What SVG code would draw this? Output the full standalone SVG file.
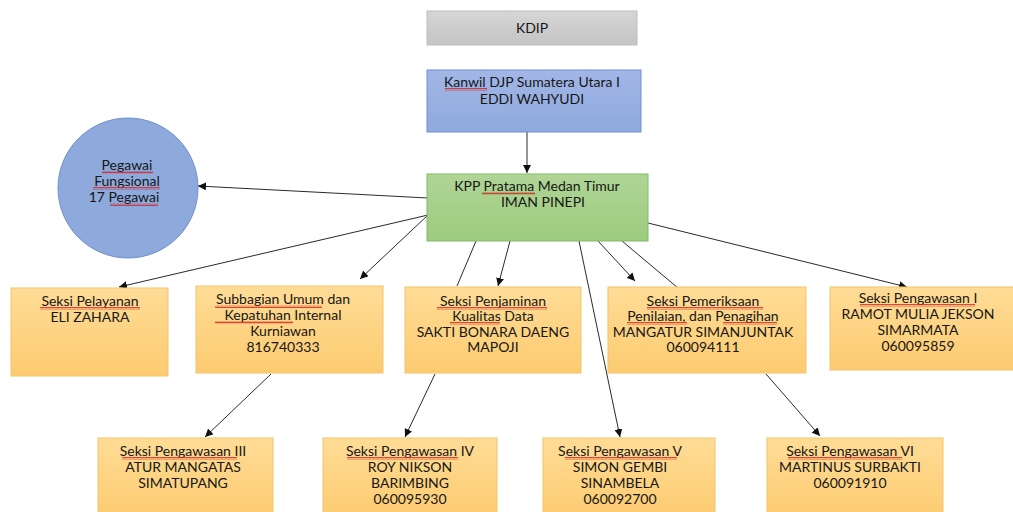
<svg xmlns="http://www.w3.org/2000/svg" width="1013" height="512" viewBox="0 0 1013 512">
<defs>
<linearGradient id="gOrange" x1="0" y1="0" x2="0" y2="1"><stop offset="0" stop-color="#ffdc96"/><stop offset="1" stop-color="#fccb70"/></linearGradient>
<linearGradient id="gGray" x1="0" y1="0" x2="0" y2="1"><stop offset="0" stop-color="#d6d6d6"/><stop offset="1" stop-color="#c4c4c4"/></linearGradient>
<linearGradient id="gBlue" x1="0" y1="0" x2="0" y2="1"><stop offset="0" stop-color="#a2b6e6"/><stop offset="1" stop-color="#8ea9dc"/></linearGradient>
<linearGradient id="gGreen" x1="0" y1="0" x2="0" y2="1"><stop offset="0" stop-color="#b0d596"/><stop offset="1" stop-color="#9ccb7e"/></linearGradient>
<pattern id="sq" patternUnits="userSpaceOnUse" width="4" height="3"><path d="M0 2.4 L1 0.6 L2 2.4 L3 0.6 L4 2.4" fill="none" stroke="#d42020" stroke-width="0.8"/></pattern>
<marker id="ah" viewBox="0 0 10 10" refX="10" refY="5" markerWidth="8" markerHeight="8" markerUnits="userSpaceOnUse" orient="auto"><path d="M0 0 L10 5 L0 10 z" fill="#111"/></marker>
</defs>
<style>
text{font-family:Lato,"Liberation Sans",sans-serif;font-size:14px;fill:#161616;text-anchor:middle}
.ob{fill:url(#gOrange);stroke:#f2c46e;stroke-width:1}
.ln{stroke:#2a2a2a;stroke-width:1;fill:none}
.ar{stroke:#2a2a2a;stroke-width:1;fill:none;marker-end:url(#ah)}
.sq{fill:url(#sq)}
</style>
<rect width="1013" height="512" fill="#ffffff"/>

<g id="connectors">
<line class="ar" x1="527" y1="132" x2="527" y2="173"/>
<line class="ar" x1="428" y1="198" x2="198" y2="186"/>
<line class="ar" x1="428" y1="215" x2="119" y2="287"/>
<line class="ar" x1="428" y1="215" x2="360" y2="279"/>
<line class="ln" x1="476" y1="241" x2="457" y2="286"/>
<line class="ar" x1="510" y1="241" x2="498" y2="286"/>
<line class="ar" x1="579" y1="241" x2="620" y2="437"/>
<line class="ar" x1="598" y1="241" x2="635" y2="281"/>
<line class="ln" x1="622" y1="241" x2="678" y2="288"/>
<line class="ar" x1="648" y1="223" x2="907" y2="287"/>
<line class="ar" x1="271" y1="374" x2="205" y2="437"/>
<line class="ar" x1="435" y1="374" x2="405" y2="437"/>
<line class="ar" x1="766" y1="374" x2="820" y2="436"/>
</g>

<g id="kdip">
<rect x="427" y="11" width="210" height="34" fill="url(#gGray)" stroke="#bdbdbd"/>
<text x="532" y="33">KDIP</text>
</g>

<g id="kanwil">
<rect x="427" y="70" width="214" height="62" fill="url(#gBlue)" stroke="#6f8fcf"/>
<text x="532" y="87">Kanwil DJP Sumatera Utara I</text>
<text x="532" y="104">EDDI WAHYUDI</text>
<rect class="sq" x="445" y="88" width="42" height="3"/>
</g>

<g id="kpp">
<rect x="427" y="174" width="221" height="67" fill="url(#gGreen)" stroke="#86b86a"/>
<text x="537" y="191">KPP Pratama Medan Timur</text>
<text x="543" y="207">IMAN PINEPI</text>
<rect class="sq" x="482" y="192" width="53" height="3"/>
</g>

<g id="fungsional">
<circle cx="128" cy="188" r="70" fill="#8eaadc" stroke="#6f8fcf"/>
<text x="127" y="170">Pegawai</text>
<text x="127" y="186">Fungsional</text>
<text x="124" y="202">17 Pegawai</text>
<rect class="sq" x="102" y="171" width="51" height="3"/>
<rect class="sq" x="93" y="187" width="67" height="3"/>
<rect class="sq" x="110" y="203" width="48" height="3"/>
</g>

<g id="pelayanan">
<rect class="ob" x="11" y="288" width="157" height="88"/>
<text x="90" y="306">Seksi Pelayanan</text>
<text x="90" y="322">ELI ZAHARA</text>
<rect class="sq" x="40" y="307" width="100" height="3"/>
</g>

<g id="subbagian">
<rect class="ob" x="196" y="286" width="187" height="87"/>
<text x="283" y="304">Subbagian Umum dan</text>
<text x="283" y="320">Kepatuhan Internal</text>
<text x="283" y="336">Kurniawan</text>
<text x="283" y="352">816740333</text>
<rect class="sq" x="215" y="305" width="107" height="3"/>
<rect class="sq" x="215" y="321" width="78" height="3"/>
</g>

<g id="penjaminan">
<rect class="ob" x="405" y="287" width="176" height="86"/>
<text x="493" y="306">Seksi Penjaminan</text>
<text x="493" y="321">Kualitas Data</text>
<text x="493" y="337">SAKTI BONARA DAENG</text>
<text x="493" y="352">MAPOJI</text>
<rect class="sq" x="437" y="307" width="110" height="3"/>
<rect class="sq" x="450" y="322" width="50" height="3"/>
</g>

<g id="pemeriksaan">
<rect class="ob" x="608" y="287" width="198" height="86"/>
<text x="703" y="306">Seksi Pemeriksaan</text>
<text x="703" y="321">Penilaian, dan Penagihan</text>
<text x="703" y="337">MANGATUR SIMANJUNTAK</text>
<text x="703" y="352">060094111</text>
<rect class="sq" x="647" y="307" width="116" height="3"/>
<rect class="sq" x="627" y="322" width="60" height="3"/>
<rect class="sq" x="723" y="322" width="54" height="3"/>
</g>

<g id="pengawasan1">
<rect class="ob" x="830" y="287" width="185" height="83"/>
<text x="918" y="303">Seksi Pengawasan I</text>
<text x="918" y="319">RAMOT MULIA JEKSON</text>
<text x="918" y="335">SIMARMATA</text>
<text x="918" y="351">060095859</text>
<rect class="sq" x="860" y="304" width="115" height="3"/>
</g>

<g id="pengawasan3">
<rect class="ob" x="98" y="438" width="175" height="80"/>
<text x="183" y="456">Seksi Pengawasan III</text>
<text x="183" y="472">ATUR MANGATAS</text>
<text x="183" y="488">SIMATUPANG</text>
<rect class="sq" x="122" y="457" width="115" height="3"/>
</g>

<g id="pengawasan4">
<rect class="ob" x="323" y="438" width="174" height="80"/>
<text x="410" y="456">Seksi Pengawasan IV</text>
<text x="410" y="472">ROY NIKSON</text>
<text x="410" y="488">BARIMBING</text>
<text x="410" y="504">060095930</text>
<rect class="sq" x="347" y="457" width="111" height="3"/>
</g>

<g id="pengawasan5">
<rect class="ob" x="543" y="438" width="172" height="80"/>
<text x="620" y="456">Seksi Pengawasan V</text>
<text x="620" y="472">SIMON GEMBI</text>
<text x="620" y="488">SINAMBELA</text>
<text x="620" y="504">060092700</text>
<rect class="sq" x="565" y="457" width="112" height="3"/>
</g>

<g id="pengawasan6">
<rect class="ob" x="767" y="438" width="176" height="80"/>
<text x="850" y="456">Seksi Pengawasan VI</text>
<text x="850" y="472">MARTINUS SURBAKTI</text>
<text x="850" y="488">060091910</text>
<rect class="sq" x="788" y="457" width="114" height="3"/>
</g>
</svg>
